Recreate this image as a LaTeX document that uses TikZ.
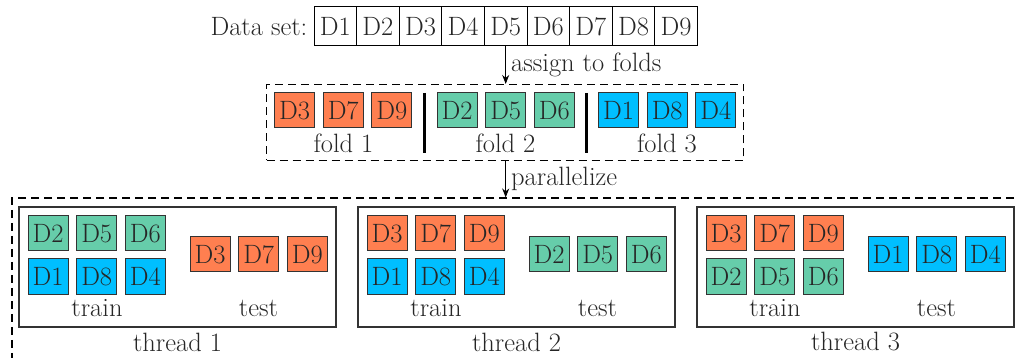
\documentclass[tikz,border=0pt]{standalone}
\usepackage{tikz}
\usetikzlibrary{arrows.meta}
\definecolor{foldA}{RGB}{255,127,80}
\definecolor{foldB}{RGB}{102,205,170}
\definecolor{foldC}{RGB}{0,191,255}
\tikzset{>/.tip={Stealth[length=9pt,width=7pt]},
  item/.style={draw=black!80, line width=1pt, minimum width=40pt, minimum height=35pt, inner sep=0pt},
  datacell/.style={draw, line width=1pt, minimum width=42.6pt, minimum height=39pt, inner sep=0pt},
  dashbox/.style={draw, line width=1.1pt, dash pattern=on 8pt off 5pt},
  threadbox/.style={draw=black!80, line width=1.1pt, minimum width=317pt, minimum height=120pt}}
% three boxes of one fold in a row
\newcommand{\foldrow}[5]{%
  \foreach \lab [count=\k] in {#5}
    \node[item, fill=#4] (#1-\k) at ({#2+48.7*(\k-1)},#3) {\lab};%
}
% one thread: two train rows and the test row
\newcommand{\thread}[8]{%
  \node[threadbox] (th#1) at ({#2+158.5},267) {};
  \foldrow{tr#1a}{#2+29}{233.5}{#3}{#4}
  \foldrow{tr#1b}{#2+29}{276.5}{#5}{#6}
  \foldrow{te#1}{#2+191}{254.5}{#7}{#8}
  \node (train#1) at ({#2+78},308) {train};
  \node (test#1) at ({#2+239.5},308) {test};
  \node (lab#1) at ({#2+158.5},342) {thread #1};
}

\begin{document}
\begin{tikzpicture}[x=1pt,y=-1pt, font=\fontsize{26.5}{31}\selectfont, text=black!85]
\clip (0,0) rectangle (1015,358);

\foreach \i in {1,...,9}
  \node[datacell] (d\i) at ({314+42.6*(\i-0.5)},26.5) {D\i};
\node[anchor=east, inner sep=6pt] (dslabel) at (d1.west) {Data set:};

\node[dashbox, minimum width=477pt, minimum height=76pt] (folds) at (505,122.5) {};
\foldrow{fa}{294.5}{110.5}{foldA}{D3,D7,D9}
\foldrow{fb}{457}{110.5}{foldB}{D2,D5,D6}
\foldrow{fc}{618.5}{110.5}{foldC}{D1,D8,D4}
\draw[line width=3pt] (424,93) -- (424,153);
\draw[line width=3pt] (586,93) -- (586,153);
\node (fl1) at (343.5,143) {fold 1};
\node (fl2) at (505.5,143) {fold 2};
\node (fl3) at (667,143) {fold 3};

\node[dashbox, minimum width=1013pt, minimum height=172pt] (pool) at (518.5,284) {};

\draw[->, line width=1pt] (d5.south) -- node[right, inner sep=5pt] {assign to folds} (d5.south |- folds.north);
\draw[->, line width=1pt] (d5.south |- folds.south) -- node[right, inner sep=5pt] {parallelize} (d5.south |- pool.north);

\thread{1}{19}{foldB}{D2,D5,D6}{foldC}{D1,D8,D4}{foldA}{D3,D7,D9}
\thread{2}{358}{foldA}{D3,D7,D9}{foldC}{D1,D8,D4}{foldB}{D2,D5,D6}
\thread{3}{697}{foldA}{D3,D7,D9}{foldB}{D2,D5,D6}{foldC}{D1,D8,D4}
\end{tikzpicture}
\end{document}
